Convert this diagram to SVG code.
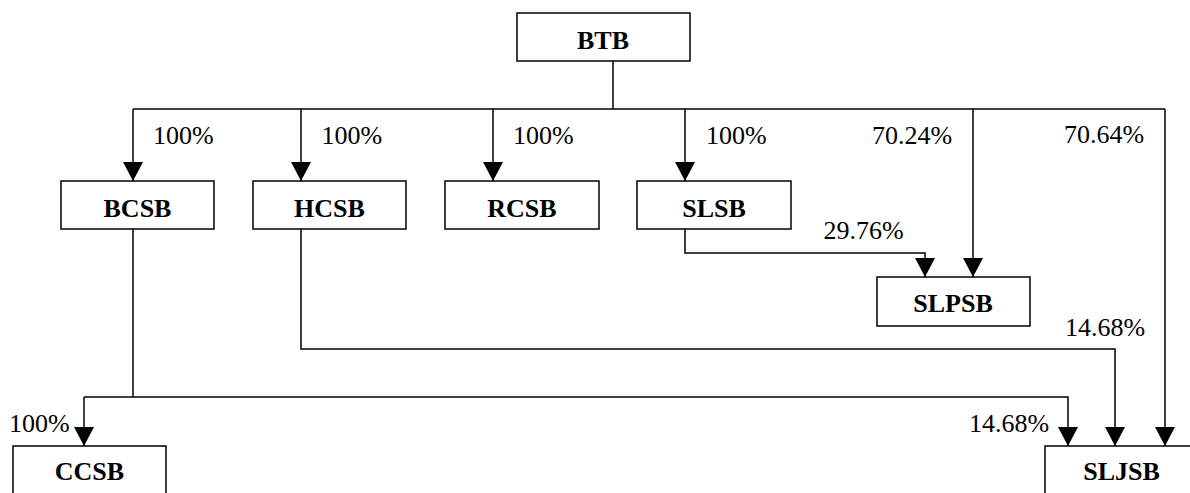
<svg xmlns="http://www.w3.org/2000/svg" width="1190" height="493" viewBox="0 0 1190 493">
<defs>
<style>
.box{fill:#fff;stroke:#000;stroke-width:1.5}
.name{font-family:"Liberation Serif","Times New Roman",serif;font-weight:bold;font-size:26px;text-anchor:middle;fill:#000}
.pct{font-family:"Liberation Serif","Times New Roman",serif;font-size:26px;fill:#000}
.ln{fill:none;stroke:#000;stroke-width:1.5}
</style>
<marker id="arr" markerUnits="userSpaceOnUse" markerWidth="20" markerHeight="20" refX="18" refY="9.5" orient="auto" viewBox="0 0 18 19">
<path d="M0,0 L18,9.5 L0,19 z" fill="#000"/>
</marker>
</defs>
<rect width="1190" height="493" fill="#fff"/>
<g id="connectors">
<path class="ln" d="M613,61 V109"/>
<path class="ln" d="M133,109 H1165"/>
<path class="ln" d="M133,109 V181" marker-end="url(#arr)"/>
<path class="ln" d="M301,109 V181" marker-end="url(#arr)"/>
<path class="ln" d="M493,109 V181" marker-end="url(#arr)"/>
<path class="ln" d="M685,109 V181" marker-end="url(#arr)"/>
<path class="ln" d="M973,109 V277" marker-end="url(#arr)"/>
<path class="ln" d="M1165,109 V446" marker-end="url(#arr)"/>
<path class="ln" d="M685,229 V253 H925 V277" marker-end="url(#arr)"/>
<path class="ln" d="M301,229 V349 H1115 V446" marker-end="url(#arr)"/>
<path class="ln" d="M133,229 V397"/>
<path class="ln" d="M84,397 V446" marker-end="url(#arr)"/>
<path class="ln" d="M84,397 H1068 V446" marker-end="url(#arr)"/>
<text class="pct" x="153" y="144">100%</text>
<text class="pct" x="321.5" y="144">100%</text>
<text class="pct" x="513" y="144">100%</text>
<text class="pct" x="706" y="144">100%</text>
<text class="pct" x="872" y="144">70.24%</text>
<text class="pct" x="1064" y="143">70.64%</text>
<text class="pct" x="823.5" y="238.5">29.76%</text>
<text class="pct" x="1065" y="336">14.68%</text>
<text class="pct" x="9" y="432">100%</text>
<text class="pct" x="969" y="432">14.68%</text>
</g>
<g id="BTB"><rect class="box" x="517" y="13" width="173" height="48"/><text class="name" x="603" y="49">BTB</text></g>
<g id="BCSB"><rect class="box" x="61" y="181" width="153" height="48"/><text class="name" x="137.5" y="217">BCSB</text></g>
<g id="HCSB"><rect class="box" x="253" y="181" width="153" height="48"/><text class="name" x="329.5" y="217">HCSB</text></g>
<g id="RCSB"><rect class="box" x="445" y="181" width="154" height="48"/><text class="name" x="522" y="217">RCSB</text></g>
<g id="SLSB"><rect class="box" x="637" y="181" width="154" height="48"/><text class="name" x="714" y="217">SLSB</text></g>
<g id="SLPSB"><rect class="box" x="877" y="277" width="153" height="49"/><text class="name" x="953" y="312">SLPSB</text></g>
<g id="CCSB"><rect class="box" x="13" y="446" width="153" height="60"/><text class="name" x="89.5" y="480">CCSB</text></g>
<g id="SLJSB"><rect class="box" x="1045" y="446" width="154" height="60"/><text class="name" x="1121.5" y="480">SLJSB</text></g>
</svg>
